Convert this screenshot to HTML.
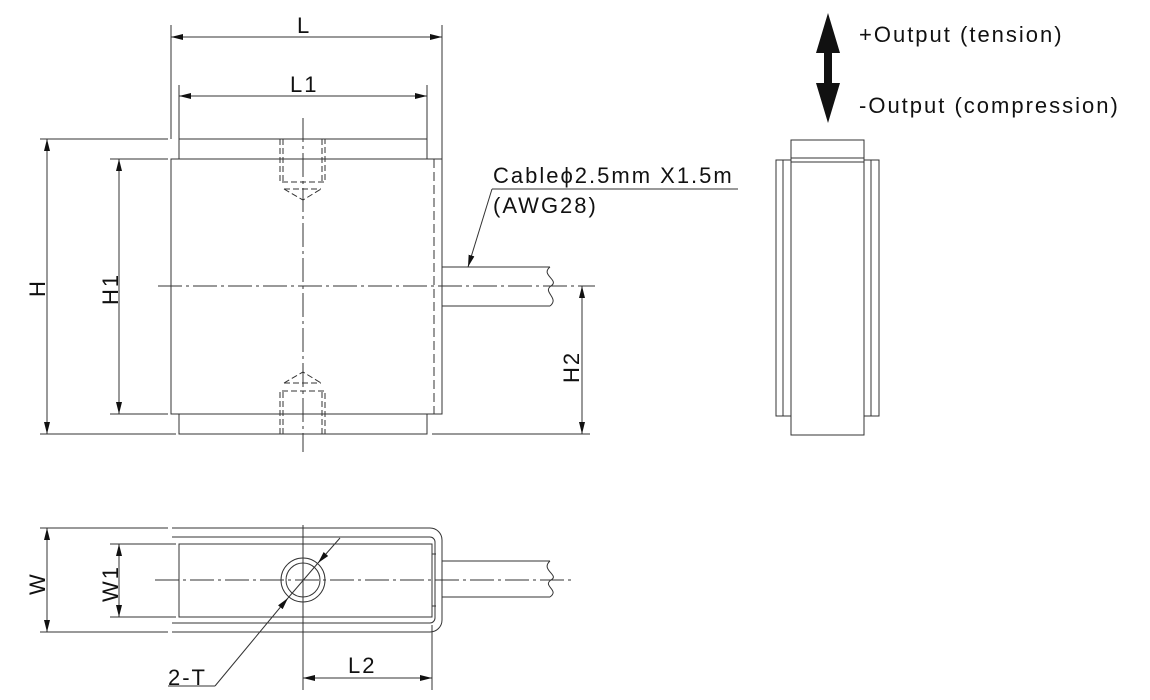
<!DOCTYPE html>
<html><head><meta charset="utf-8"><style>html,body{margin:0;padding:0;background:#fff}svg{display:block}</style></head><body>
<svg width="1150" height="700" viewBox="0 0 1150 700" xmlns="http://www.w3.org/2000/svg" font-family="Liberation Sans, Arial, sans-serif">
<defs>
<marker id="a" viewBox="0 0 12 6" refX="12" refY="3" markerWidth="12" markerHeight="6" orient="auto-start-reverse" markerUnits="userSpaceOnUse"><path d="M0,0 L12,3 L0,6 z" fill="#111"/></marker>
</defs>
<g stroke="#333" stroke-width="1" fill="none">
<rect x="179" y="139" width="248" height="20"/>
<rect x="171" y="159" width="271" height="255"/>
<rect x="179" y="414" width="248" height="20"/>
<line x1="434" y1="159" x2="434" y2="414" stroke-dasharray="9,4"/>
<line x1="303" y1="118" x2="303" y2="452" stroke-dasharray="24,4,3,4"/>
<line x1="158" y1="286" x2="595" y2="286" stroke-dasharray="24,4,3,4"/>
<g stroke-dasharray="6,3">
<path d="M280,139 V182 H325 V139 M283,139 V182 M322,139 V182 M284,189 H321 M284,189 L303,200 L321,189"/>
<path d="M280,434 V391 H325 V434 M283,434 V391 M322,434 V391 M284,383 H321 M284,383 L303,372 L321,383"/>
</g>
<path d="M442,267 H550 M442,306 H550 M550,267 C540,275 560,280 551,286 C542,292 560,298 550,306"/>
<line x1="171" y1="25" x2="171" y2="139"/><line x1="442" y1="25" x2="442" y2="159"/>
<line x1="171" y1="37" x2="442" y2="37" marker-start="url(#a)" marker-end="url(#a)"/>
<line x1="179" y1="85" x2="179" y2="139"/><line x1="427" y1="85" x2="427" y2="139"/>
<line x1="179" y1="96" x2="427" y2="96" marker-start="url(#a)" marker-end="url(#a)"/>
<line x1="40" y1="139" x2="168" y2="139"/><line x1="40" y1="434" x2="176" y2="434"/>
<line x1="47" y1="139" x2="47" y2="434" marker-start="url(#a)" marker-end="url(#a)"/>
<line x1="110" y1="159" x2="168" y2="159"/><line x1="110" y1="414" x2="168" y2="414"/>
<line x1="119" y1="159" x2="119" y2="414" marker-start="url(#a)" marker-end="url(#a)"/>
<line x1="432" y1="434" x2="590" y2="434"/>
<line x1="582" y1="286" x2="582" y2="434" marker-start="url(#a)" marker-end="url(#a)"/>
<line x1="492" y1="189" x2="738" y2="189"/>
<line x1="492" y1="189" x2="468" y2="267" marker-end="url(#a)"/>
<rect x="791" y="140" width="73" height="295"/>
<line x1="791" y1="158" x2="864" y2="158"/><line x1="791" y1="162" x2="864" y2="162"/>
<rect x="776" y="160" width="15" height="256"/><line x1="783" y1="160" x2="783" y2="416"/>
<rect x="864" y="160" width="15" height="256"/><line x1="871" y1="160" x2="871" y2="416"/>
<path d="M172,528 H430 A12,12 0 0 1 442,540 V620 A12,12 0 0 1 430,632 H172"/>
<path d="M172,537 H430 A5,5 0 0 1 435,542 V618 A5,5 0 0 1 430,623 H172"/>
<rect x="179" y="544" width="253" height="73"/>
<line x1="432" y1="554" x2="436" y2="554"/><line x1="432" y1="606" x2="436" y2="606"/>
<circle cx="303" cy="580" r="22"/><circle cx="303" cy="580" r="17"/>
<path d="M442,561 H550 M442,597 H550 M550,561 C540,570 560,575 551,580 C542,586 560,590 550,597"/>
<line x1="155" y1="580" x2="572" y2="580" stroke-dasharray="24,4,3,4"/>
<line x1="303" y1="525" x2="303" y2="690"/>
<line x1="40" y1="528" x2="168" y2="528"/><line x1="40" y1="632" x2="168" y2="632"/>
<line x1="47" y1="528" x2="47" y2="632" marker-start="url(#a)" marker-end="url(#a)"/>
<line x1="110" y1="544" x2="176" y2="544"/><line x1="110" y1="617" x2="176" y2="617"/>
<line x1="119" y1="544" x2="119" y2="617" marker-start="url(#a)" marker-end="url(#a)"/>
<line x1="340" y1="538" x2="318" y2="563" marker-end="url(#a)"/>
<line x1="318" y1="563" x2="288" y2="598"/>
<line x1="215" y1="686" x2="288" y2="598" marker-end="url(#a)"/>
<line x1="168" y1="686" x2="215" y2="686"/>
<line x1="432" y1="625" x2="432" y2="690"/>
<line x1="303" y1="678" x2="432" y2="678" marker-start="url(#a)" marker-end="url(#a)"/>
</g>
<path d="M828,13 L840,53 L832,53 L832,83 L840,83 L828,123 L816,83 L824,83 L824,53 L816,53 z" fill="#111"/>
<g fill="#111" font-size="22" letter-spacing="2">
<text x="859" y="42">+Output (tension)</text>
<text x="859" y="113">-Output (compression)</text>
<text x="493" y="183">Cable&#981;2.5mm X1.5m</text>
<text x="493" y="213">(AWG28)</text>
<text x="297" y="33">L</text>
<text x="290" y="92">L1</text>
<text x="348" y="673">L2</text>
<text x="168" y="685">2-T</text>
<text transform="translate(45,297) rotate(-90)">H</text>
<text transform="translate(118,305) rotate(-90)">H1</text>
<text transform="translate(579,383) rotate(-90)">H2</text>
<text transform="translate(45,595) rotate(-90)">W</text>
<text transform="translate(118,602) rotate(-90)">W1</text>
</g>
</svg>
</body></html>
